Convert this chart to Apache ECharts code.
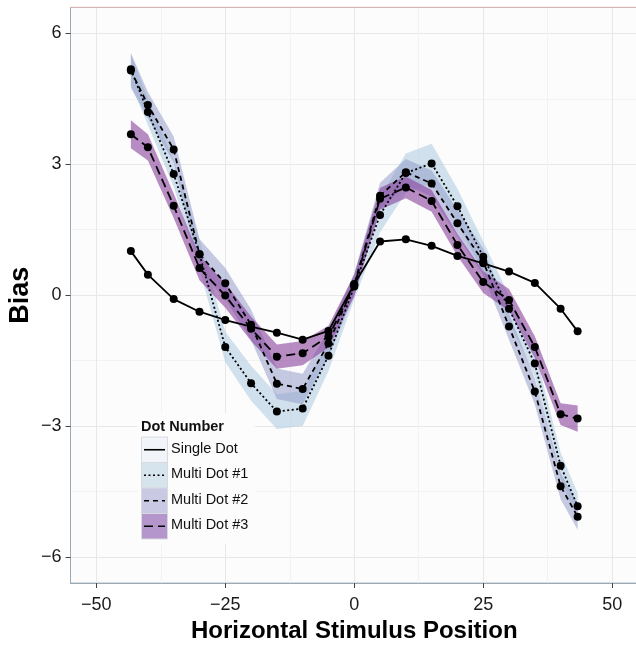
<!DOCTYPE html>
<html>
<head>
<meta charset="utf-8">
<script src="https://cdn.jsdelivr.net/npm/echarts@6.0.0/dist/echarts.min.js"></script>
<style>
html,body{margin:0;padding:0;background:#fff}
#chart{width:636px;height:651px}
</style>
</head>
<body>
<div id="chart"></div>
<script>
// stimulus positions (deg)
var positions = [-43.3, -40, -35, -30, -25, -20, -15, -10, -5, 0, 5, 10, 15, 20, 25, 30, 35, 40, 43.3];

var singleDot = [1.01, 0.47, -0.09, -0.38, -0.57, -0.72, -0.86, -1.02, -0.82, 0.25, 1.23, 1.28, 1.13, 0.90, 0.73, 0.54, 0.28, -0.31, -0.83];
var multi1 = [5.18, 4.20, 2.78, 0.94, -1.19, -2.02, -2.67, -2.60, -1.39, 0.20, 1.84, 2.80, 3.02, 2.04, 0.88, -0.31, -1.57, -3.91, -4.84];
var multi2 = [5.15, 4.36, 3.34, 0.94, 0.27, -0.68, -2.03, -2.15, -1.11, 0.25, 2.28, 2.82, 2.56, 1.65, 0.77, -0.72, -2.21, -4.38, -5.08];
var multi3 = [3.69, 3.39, 2.05, 0.62, -0.01, -0.77, -1.41, -1.33, -0.95, 0.22, 2.21, 2.47, 2.16, 1.15, 0.30, -0.11, -1.19, -2.73, -2.83];

// half widths of the shaded bands
var multi1Ci = [0.35, 0.3, 0.3, 0.35, 0.35, 0.4, 0.4, 0.4, 0.35, 0.3, 0.4, 0.45, 0.45, 0.4, 0.35, 0.3, 0.3, 0.3, 0.3];
var multi2Ci = [0.4, 0.3, 0.3, 0.35, 0.35, 0.35, 0.35, 0.35, 0.3, 0.25, 0.3, 0.3, 0.3, 0.3, 0.3, 0.3, 0.3, 0.3, 0.3];
var multi3Ci = [0.32, 0.3, 0.28, 0.28, 0.28, 0.28, 0.28, 0.28, 0.25, 0.25, 0.25, 0.25, 0.25, 0.25, 0.25, 0.25, 0.25, 0.25, 0.3];

var xTicks = [-50, -25, 0, 25, 50];
var xMinor = [-37.5, -12.5, 12.5, 37.5];
var yTicks = [-6, -3, 0, 3, 6];
var yMinor = [-4.5, -1.5, 1.5, 4.5];

var legendNames = ['Single Dot', 'Multi Dot #1', 'Multi Dot #2', 'Multi Dot #3'];
var legendFills = ['#f1f5f9', '#d6e4ee', '#c9c9e4', '#b496cc'];
var dashes = ['solid', [2, 2.5], [5, 4], [9, 5]];

var chart = echarts.init(document.getElementById('chart'));

function minus(v){ return String(v).replace('-', '\u2212'); }

function pairs(vals){
  return positions.map(function(x, i){ return [x, vals[i]]; });
}

function band(vals, ci, color){
  var rows = positions.map(function(x, i){ return [x, vals[i] - ci[i], vals[i] + ci[i]]; });
  return {
    type: 'custom',
    z: 1,
    silent: true,
    data: rows,
    encode: {x: 0, y: [1, 2]},
    renderItem: function(params, api){
      if (params.dataIndex !== 0) return null;
      var pts = [];
      for (var i = 0; i < rows.length; i++) pts.push(api.coord([rows[i][0], rows[i][2]]));
      for (var j = rows.length - 1; j >= 0; j--) pts.push(api.coord([rows[j][0], rows[j][1]]));
      return {type: 'polygon', shape: {points: pts}, style: {fill: color}};
    }
  };
}

function line(vals, dash){
  return {
    type: 'line',
    z: 3,
    data: pairs(vals),
    symbol: 'circle',
    symbolSize: 8,
    itemStyle: {color: '#000'},
    lineStyle: {color: '#000', width: 1.8, type: dash},
    emphasis: {disabled: true}
  };
}

// legend drawn by hand (filled keys like ggplot)
var legendEls = [{
  type: 'rect', shape: {x: 137, y: 413, width: 118, height: 131},
  style: {fill: '#fcfcfc'}
}, {
  type: 'text', left: 141, top: 419,
  style: {text: 'Dot Number', fontSize: 14.5, fontWeight: 'bold', fontFamily: 'Liberation Sans', fill: '#111'}
}];
legendNames.forEach(function(name, i){
  var y0 = 437 + i * 25.5;
  legendEls.push({
    type: 'rect', shape: {x: 141.5, y: y0, width: 26, height: 25.5},
    style: {fill: legendFills[i], stroke: '#d8dadf', lineWidth: 1}
  });
  legendEls.push({
    type: 'line', shape: {x1: 144, y1: y0 + 12.75, x2: 165, y2: y0 + 12.75},
    style: {stroke: '#000', lineWidth: 1.6, lineDash: dashes[i] === 'solid' ? null : dashes[i]}
  });
  legendEls.push({
    type: 'text', left: 171, top: y0 + 4,
    style: {text: name, fontSize: 14.5, fontFamily: 'Liberation Sans', fill: '#111'}
  });
});

var option = {
  animation: false,
  backgroundColor: '#fff',
  textStyle: {fontFamily: 'Liberation Sans'},
  grid: {left: 70.5, top: 7.3, right: -2, bottom: 68, show: true, outerBoundsMode: 'none',
    backgroundColor: '#fcfcfc', borderColor: '#b4bcc4', borderWidth: 1},
  xAxis: [{
    type: 'value', min: -55, max: 55, position: 'bottom',
    name: 'Horizontal Stimulus Position', nameLocation: 'middle', nameGap: 36, nameMoveOverlap: false,
    nameTextStyle: {fontSize: 24, fontWeight: 'bold', color: '#000'},
    axisLine: {show: true, onZero: false, lineStyle: {color: '#9aaab4', width: 1}},
    axisTick: {show: true, length: 5, customValues: xTicks, lineStyle: {color: '#444'}},
    axisLabel: {customValues: xTicks, formatter: minus, fontSize: 18, color: '#1a1a1a', margin: 13},
    splitLine: {show: true, lineStyle: {color: '#e8e8e8', width: 1}}
  }, {
    type: 'value', min: -55, max: 55, position: 'top',
    axisLine: {show: true, onZero: false, lineStyle: {color: '#d9b2b2', width: 1}},
    axisTick: {show: false, customValues: xMinor},
    axisLabel: {show: false, customValues: xMinor},
    splitLine: {show: true, lineStyle: {color: '#f2f2f2', width: 1}}
  }],
  yAxis: [{
    type: 'value', min: -6.6, max: 6.6, position: 'left',
    name: 'Bias', nameLocation: 'middle', nameGap: 36, nameMoveOverlap: false,
    nameTextStyle: {fontSize: 27, fontWeight: 'bold', color: '#000'},
    axisLine: {show: true, onZero: false, lineStyle: {color: '#9aaab4', width: 1}},
    axisTick: {show: true, length: 5, customValues: yTicks, lineStyle: {color: '#444'}},
    axisLabel: {customValues: yTicks, formatter: minus, fontSize: 18, color: '#1a1a1a', margin: 9},
    splitLine: {show: true, lineStyle: {color: '#e8e8e8', width: 1}}
  }, {
    type: 'value', min: -6.6, max: 6.6, position: 'right',
    axisLine: {show: false},
    axisTick: {show: false, customValues: yMinor},
    axisLabel: {show: false, customValues: yMinor},
    splitLine: {show: true, lineStyle: {color: '#f2f2f2', width: 1}}
  }],
  series: [
    band(multi1, multi1Ci, 'rgba(179,205,227,0.6)'),
    band(multi2, multi2Ci, 'rgba(140,150,198,0.5)'),
    band(multi3, multi3Ci, 'rgba(136,65,157,0.6)'),
    line(singleDot, dashes[0]),
    line(multi1, dashes[1]),
    line(multi2, dashes[2]),
    line(multi3, dashes[3])
  ],
  graphic: {elements: legendEls.map(function(el){ el.z = 100; return el; })}
};

chart.setOption(option);
</script>
</body>
</html>
